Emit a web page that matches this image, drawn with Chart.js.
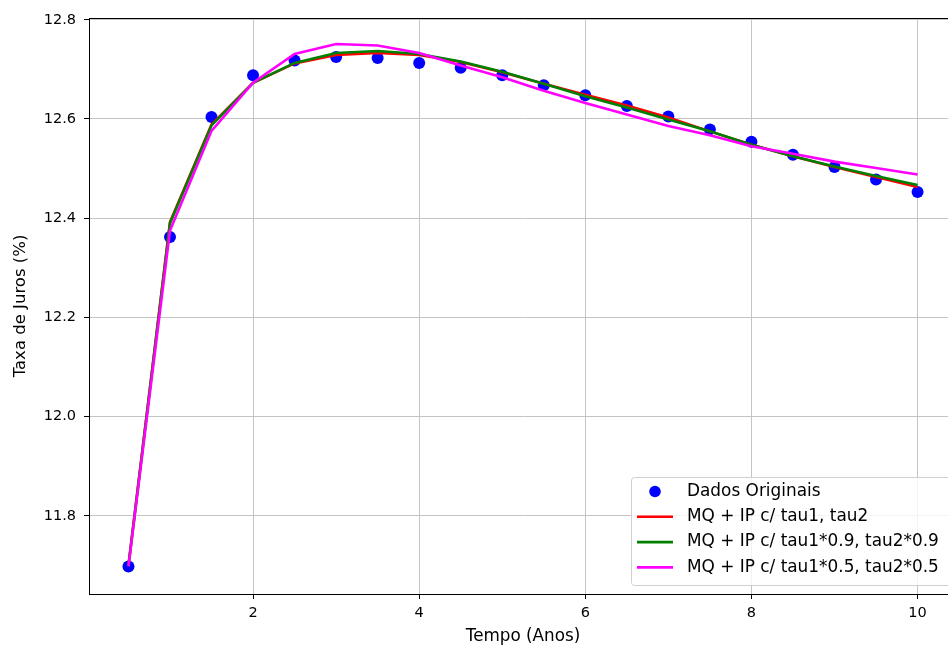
<!DOCTYPE html>
<html>
<head>
<meta charset="utf-8">
<script src="https://cdn.jsdelivr.net/npm/chart.js@4.4.1/dist/chart.umd.min.js"></script>
<style>
  html, body { margin: 0; padding: 0; background: #fff; overflow: hidden; }
  #wrap { width: 963px; height: 648px; }
</style>
</head>
<body>
<div id="wrap"><canvas id="curva" width="963" height="648"></canvas></div>
<script>
// prazos (anos) e taxas
const tempo = [0.5, 1, 1.5, 2, 2.5, 3, 3.5, 4, 4.5, 5, 5.5, 6, 6.5, 7, 7.5, 8, 8.5, 9, 9.5, 10];
const dadosOriginais = [11.698, 12.362, 12.604, 12.688, 12.718, 12.725, 12.723, 12.713, 12.703, 12.688,
                        12.668, 12.648, 12.626, 12.605, 12.579, 12.554, 12.528, 12.503, 12.478, 12.453];
const ajusteTau = [11.700, 12.392, 12.589, 12.673, 12.712, 12.729, 12.733, 12.729, 12.715, 12.694,
                   12.671, 12.649, 12.627, 12.603, 12.575, 12.548, 12.525, 12.503, 12.483, 12.463];
const ajusteTau09 = [11.700, 12.390, 12.587, 12.673, 12.713, 12.733, 12.737, 12.731, 12.716, 12.695,
                     12.671, 12.646, 12.623, 12.599, 12.575, 12.548, 12.525, 12.504, 12.485, 12.467];
const ajusteTau05 = [11.698, 12.375, 12.576, 12.673, 12.731, 12.751, 12.748, 12.733, 12.708, 12.684,
                     12.657, 12.632, 12.609, 12.586, 12.567, 12.545, 12.530, 12.514, 12.501, 12.488];
const xTicks = [2, 4, 6, 8, 10];
const yTicks = [11.8, 12.0, 12.2, 12.4, 12.6, 12.8];

const pts = arr => arr.map((v, i) => ({x: tempo[i], y: v}));
const FONT = 'DejaVu Sans';

// moldura dos eixos (spines de cima e da direita)
const framePlugin = {
  id: 'frame',
  afterDatasetsDraw(chart) {
    const a = chart.chartArea, ctx = chart.ctx;
    ctx.save();
    ctx.strokeStyle = '#000';
    ctx.lineWidth = 1;
    ctx.strokeRect(Math.round(a.left) + 0.5, Math.round(a.top) + 0.5,
                   Math.round(a.right - a.left), Math.round(a.bottom - a.top));
    ctx.restore();
  }
};

// legenda no estilo matplotlib, canto inferior direito
const legendaPlugin = {
  id: 'legenda',
  afterDraw(chart) {
    const ctx = chart.ctx;
    const left = 631, top = 477, right = 960, bottom = 585;
    ctx.save();
    ctx.beginPath();
    ctx.roundRect(left + 0.5, top + 0.5, right - left, bottom - top, 3);
    ctx.fillStyle = 'rgba(255,255,255,0.8)';
    ctx.fill();
    ctx.strokeStyle = '#d0d0d0';
    ctx.lineWidth = 1;
    ctx.stroke();
    ctx.font = '16.9px "' + FONT + '"';
    ctx.textBaseline = 'middle';
    ctx.textAlign = 'left';
    chart.data.datasets.forEach((ds, i) => {
      const y = 491.5 + i * 25.3;
      if (ds.showLine) {
        ctx.strokeStyle = ds.borderColor;
        ctx.lineWidth = 2.6;
        ctx.beginPath();
        ctx.moveTo(637, y);
        ctx.lineTo(673, y);
        ctx.stroke();
      } else {
        ctx.fillStyle = ds.backgroundColor;
        ctx.beginPath();
        ctx.arc(655, y, 5.8, 0, Math.PI * 2);
        ctx.fill();
      }
      ctx.fillStyle = '#000';
      ctx.fillText(ds.label, 687, y);
    });
    ctx.restore();
  }
};

new Chart(document.querySelector('#curva').getContext('2d'), {
  type: 'scatter',
  data: {
    datasets: [{
      label: 'Dados Originais',
      data: pts(dadosOriginais),
      showLine: false,
      backgroundColor: '#0000ff',
      borderColor: '#0000ff',
      pointRadius: 6,
      pointBorderWidth: 0,
      order: 4
    }, {
      label: 'MQ + IP c/ tau1, tau2',
      data: pts(ajusteTau),
      showLine: true,
      borderColor: '#ff0000',
      borderWidth: 2.6,
      pointRadius: 0,
      tension: 0,
      order: 3
    }, {
      label: 'MQ + IP c/ tau1*0.9, tau2*0.9',
      data: pts(ajusteTau09),
      showLine: true,
      borderColor: '#008000',
      borderWidth: 2.6,
      pointRadius: 0,
      tension: 0,
      order: 2
    }, {
      label: 'MQ + IP c/ tau1*0.5, tau2*0.5',
      data: pts(ajusteTau05),
      showLine: true,
      borderColor: '#ff00ff',
      borderWidth: 2.6,
      pointRadius: 0,
      tension: 0,
      order: 1
    }]
  },
  plugins: [framePlugin, legendaPlugin],
  options: {
    responsive: false,
    animation: false,
    devicePixelRatio: 1,
    layout: {padding: {top: 18, right: 1, left: 0, bottom: 0}},
    plugins: {
      legend: {display: false},
      tooltip: {enabled: false}
    },
    scales: {
      x: {
        type: 'linear',
        min: 0.025,
        max: 10.475,
        afterBuildTicks: s => { s.ticks = xTicks.map(v => ({value: v})); },
        afterFit: s => { s.height = 54; },
        grid: {color: '#c4c4c4', lineWidth: 1, tickColor: '#000', tickLength: 5},
        border: {display: true, color: '#000', width: 1},
        ticks: {color: '#000', font: {family: FONT, size: 14.5}, padding: 6, maxRotation: 0,
                callback: v => String(v)},
        title: {display: true, text: 'Tempo (Anos)', color: '#000',
                font: {family: FONT, size: 16.8}, padding: {top: 0, bottom: 1}}
      },
      y: {
        type: 'linear',
        min: 11.6425,
        max: 12.8035,
        afterBuildTicks: s => { s.ticks = yTicks.map(v => ({value: v})); },
        afterFit: s => { s.width = 89; },
        grid: {color: '#c4c4c4', lineWidth: 1, tickColor: '#000', tickLength: 5},
        border: {display: true, color: '#000', width: 1},
        ticks: {color: '#000', font: {family: FONT, size: 14.5}, padding: 8,
                callback: v => v.toFixed(1)},
        title: {display: true, text: 'Taxa de Juros (%)', color: '#000',
                font: {family: FONT, size: 16.5}, padding: {top: 11, bottom: 0}}
      }
    }
  }
});
</script>
</body>
</html>
